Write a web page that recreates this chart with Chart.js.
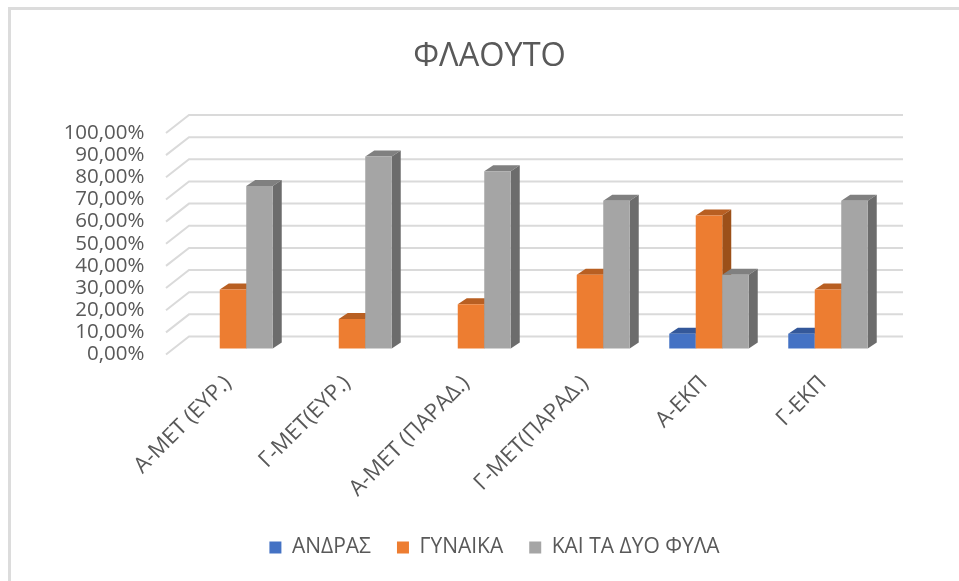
<!DOCTYPE html>
<html><head><meta charset="utf-8">
<style>
html,body{margin:0;padding:0;background:#fff;overflow:hidden}
#wrap{position:absolute;left:0;top:0;width:959px;height:581px}
#frame{position:absolute;left:8px;top:7px;right:0;bottom:0;border-left:3px solid #dcdcdc;border-top:3px solid #dcdcdc;pointer-events:none}
canvas{filter:blur(0.4px)}
</style>
<script src="https://cdn.jsdelivr.net/npm/chart.js@4"></script>
</head><body>
<div id="wrap"><canvas id="c" width="959" height="581"></canvas><div id="frame"></div></div>
<script>
const chartTitle = 'ΦΛΑΟΥΤΟ';
const categories = ['Α-ΜΕΤ (ΕΥΡ.)','Γ-ΜΕΤ(ΕΥΡ.)','Α-ΜΕΤ (ΠΑΡΑΔ.)','Γ-ΜΕΤ(ΠΑΡΑΔ.)','Α-ΕΚΠ','Γ-ΕΚΠ'];
const andras  = [0, 0, 0, 0, 6.67, 6.67];
const gynaika = [26.67, 13.33, 20, 33.33, 60, 26.67];
const kaiTaDyo = [73.33, 86.67, 80, 66.67, 33.33, 66.67];
const seriesNames = ['ΑΝΔΡΑΣ','ΓΥΝΑΙΚΑ','ΚΑΙ ΤΑ ΔΥΟ ΦΥΛΑ'];
const seriesFront = ['#4472C4','#ED7D31','#A5A5A5'];
const seriesTop   = ['#34589A','#B85F22','#808080'];
const seriesSide  = ['#2C4B84','#9C5019','#6C6C6C'];
const FONT = '"Open Sans", sans-serif';
const TEXT = '#595959';
const GRID = '#dadada';

const depth = {dx: 9, dy: 6};
const plane = {backX: 15.5, backY: 12, frontX: 7.5, frontY: 6};

const bars3d = {
  id: 'bars3d',
  afterLayout(chart) {
    chart.legend.left += 5;
    chart.legend.right += 5;
  },
  beforeDatasetsDraw(chart) {
    const {ctx, chartArea: a, scales: {y}} = chart;
    ctx.save();
    ctx.strokeStyle = GRID;
    ctx.lineWidth = 2;
    y.ticks.forEach(t => {
      const p = y.getPixelForValue(t.value);
      ctx.beginPath();
      ctx.moveTo(a.left - plane.frontX, p + plane.frontY);
      ctx.lineTo(a.left + plane.backX, p - plane.backY);
      ctx.lineTo(a.right + plane.backX, p - plane.backY);
      ctx.stroke();
    });
    ctx.restore();
    categories.forEach((_, idx) => {
      chart.data.datasets.forEach((ds, di) => {
        const bar = chart.getDatasetMeta(di).data[idx];
        if (!ds.data[idx]) return;
        const {x, y: top, base, width} = bar.getProps(['x','y','base','width'], true);
        const l = x - width / 2, r = x + width / 2;
        ctx.save();
        ctx.fillStyle = seriesTop[di];
        ctx.beginPath();
        ctx.moveTo(l, top);
        ctx.lineTo(l + depth.dx, top - depth.dy);
        ctx.lineTo(r + depth.dx, top - depth.dy);
        ctx.lineTo(r, top);
        ctx.closePath();
        ctx.fill();
        ctx.fillStyle = seriesSide[di];
        ctx.beginPath();
        ctx.moveTo(r, top);
        ctx.lineTo(r + depth.dx, top - depth.dy);
        ctx.lineTo(r + depth.dx, base - depth.dy);
        ctx.lineTo(r, base);
        ctx.closePath();
        ctx.fill();
        ctx.restore();
        bar.draw(ctx, a);
      });
    });
    return false;
  }
};

new Chart(document.getElementById('c'), {
  type: 'bar',
  plugins: [bars3d],
  data: {
    labels: categories,
    datasets: [andras, gynaika, kaiTaDyo].map((d, i) => ({
      label: seriesNames[i], data: d, backgroundColor: seriesFront[i], borderWidth: 0,
      barPercentage: 1, categoryPercentage: 0.668
    }))
  },
  options: {
    responsive: false,
    animation: false,
    layout: {padding: {left: 20, right: 0, top: 0, bottom: 13}},
    scales: {
      x: {
        grid: {display: false}, border: {display: false},
        ticks: {color: TEXT, font: {family: FONT, size: 22}, minRotation: 45, maxRotation: 45, autoSkip: false, padding: 14, labelOffset: -5},
        afterFit(s) { s.height = 162.5; }
      },
      y: {
        min: 0, max: 100,
        grid: {display: false}, border: {display: false},
        ticks: {color: TEXT, font: {family: FONT, size: 20.5}, stepSize: 10, autoSkip: false, padding: 21, labelOffset: 6,
                callback: v => v.toFixed(2).replace('.', ',') + '%'},
        afterFit(s) { s.width = 153.5; }
      },
      pad: {
        position: 'right', min: 0, max: 1,
        grid: {display: false}, border: {display: false},
        ticks: {display: false},
        afterFit(s) { s.width = 71.5; }
      }
    },
    plugins: {
      title: {display: true, text: chartTitle, color: TEXT, font: {family: FONT, size: 32.5, weight: 'normal'}, padding: {top: 37, bottom: 51}},
      legend: {position: 'bottom', labels: {color: TEXT, font: {family: FONT, size: 21}, boxWidth: 12, boxHeight: 12, padding: 26}},
      tooltip: {enabled: false}
    }
  }
});
</script>
</body></html>
